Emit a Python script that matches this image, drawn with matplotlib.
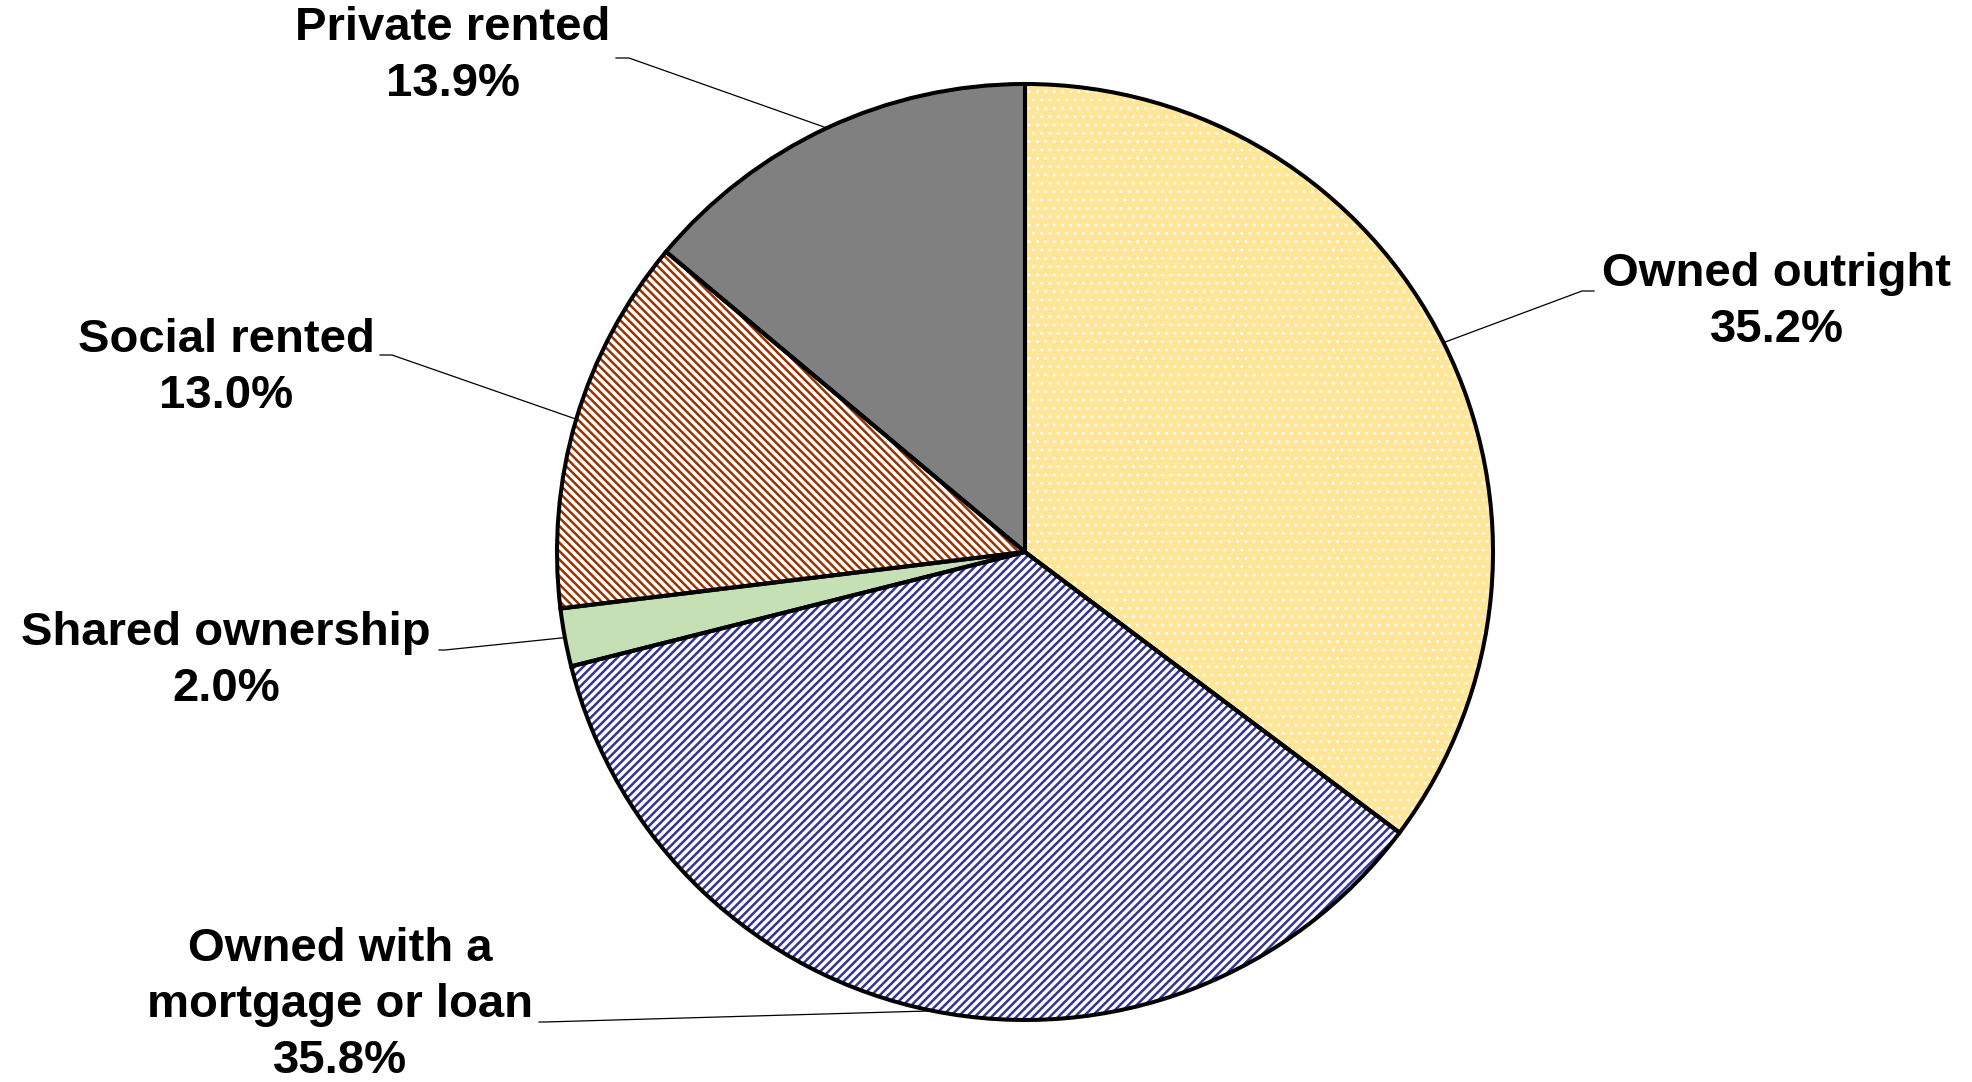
# Housing tenure pie chart
import numpy as np
import matplotlib as mpl
import matplotlib.pyplot as plt

plt.rcParams['font.family'] = ['Liberation Sans', 'DejaVu Sans']

# data (clockwise from 12 o'clock)
labels = ['Owned outright', 'Owned with a\nmortgage or loan', 'Shared ownership',
          'Social rented', 'Private rented']
shares = [35.2, 35.8, 2.0, 13.0, 13.9]

# styling per slice
faces = ['#FFE699', 'white', '#C5E0B4', 'white', '#808080']
hatch_cols = ['white', '#333399', '#C5E0B4', '#993300', '#808080']
hatches = ['..', '////', None, '\\\\\\\\', None]
hatch_lw = [0.8, 1.8, 1.0, 1.8, 1.0]

W, H = 1972, 1082
cx, cy, r = 1025, 552, 468   # pie centre / radius in pixels (y down)

# label text centre, knee of leader line, leader end next to text (pixels, y down)
text_pos = [(1777, 302), (340, 1005), (226, 661), (226, 368), (453, 56)]
knees = [(1582, 291), (545, 1022), (445, 650), (392, 355), (629, 58)]
ends = [(1594, 291), (539, 1022), (439, 650), (380, 355), (616, 58)]

fig = plt.figure(figsize=(W / 100, H / 100), dpi=100)
ax = fig.add_axes([0, 0, 1, 1])

# fill layer: one pie per hatch line width, keep only the matching wedge
for i in range(len(shares)):
    with mpl.rc_context({'hatch.linewidth': hatch_lw[i]}):
        fill, _ = ax.pie(shares, startangle=90, counterclock=False,
                         center=(cx, H - cy), radius=r, frame=True)
    for j, w in enumerate(fill):
        if j != i:
            w.remove()
            continue
        w.set_facecolor(faces[i])
        w.set_edgecolor(hatch_cols[i])
        w.set_linewidth(0)
        if hatches[i]:
            w.set_hatch(hatches[i])

# outline layer
outl, _ = ax.pie(shares, startangle=90, counterclock=False,
                 center=(cx, H - cy), radius=r, frame=True,
                 wedgeprops=dict(facecolor='none', edgecolor='black', linewidth=2.9))

for w, lab, val, tp, kn, en in zip(outl, labels, shares, text_pos, knees, ends):
    mid = np.deg2rad((w.theta1 + w.theta2) / 2)
    px, py = cx + r * np.cos(mid), (H - cy) + r * np.sin(mid)
    ax.plot([px, kn[0], en[0]], [py, H - kn[1], H - en[1]], color='black', lw=0.9)
    ax.text(tp[0], H - tp[1], f'{lab}\n{val:.1f}%', ha='center', va='center',
            fontsize=34, fontweight='bold', linespacing=1.35)

ax.set_xlim(0, W)
ax.set_ylim(0, H)
ax.set_aspect('equal')
ax.axis('off')

fig.savefig('out.png', dpi=100, facecolor='white')
